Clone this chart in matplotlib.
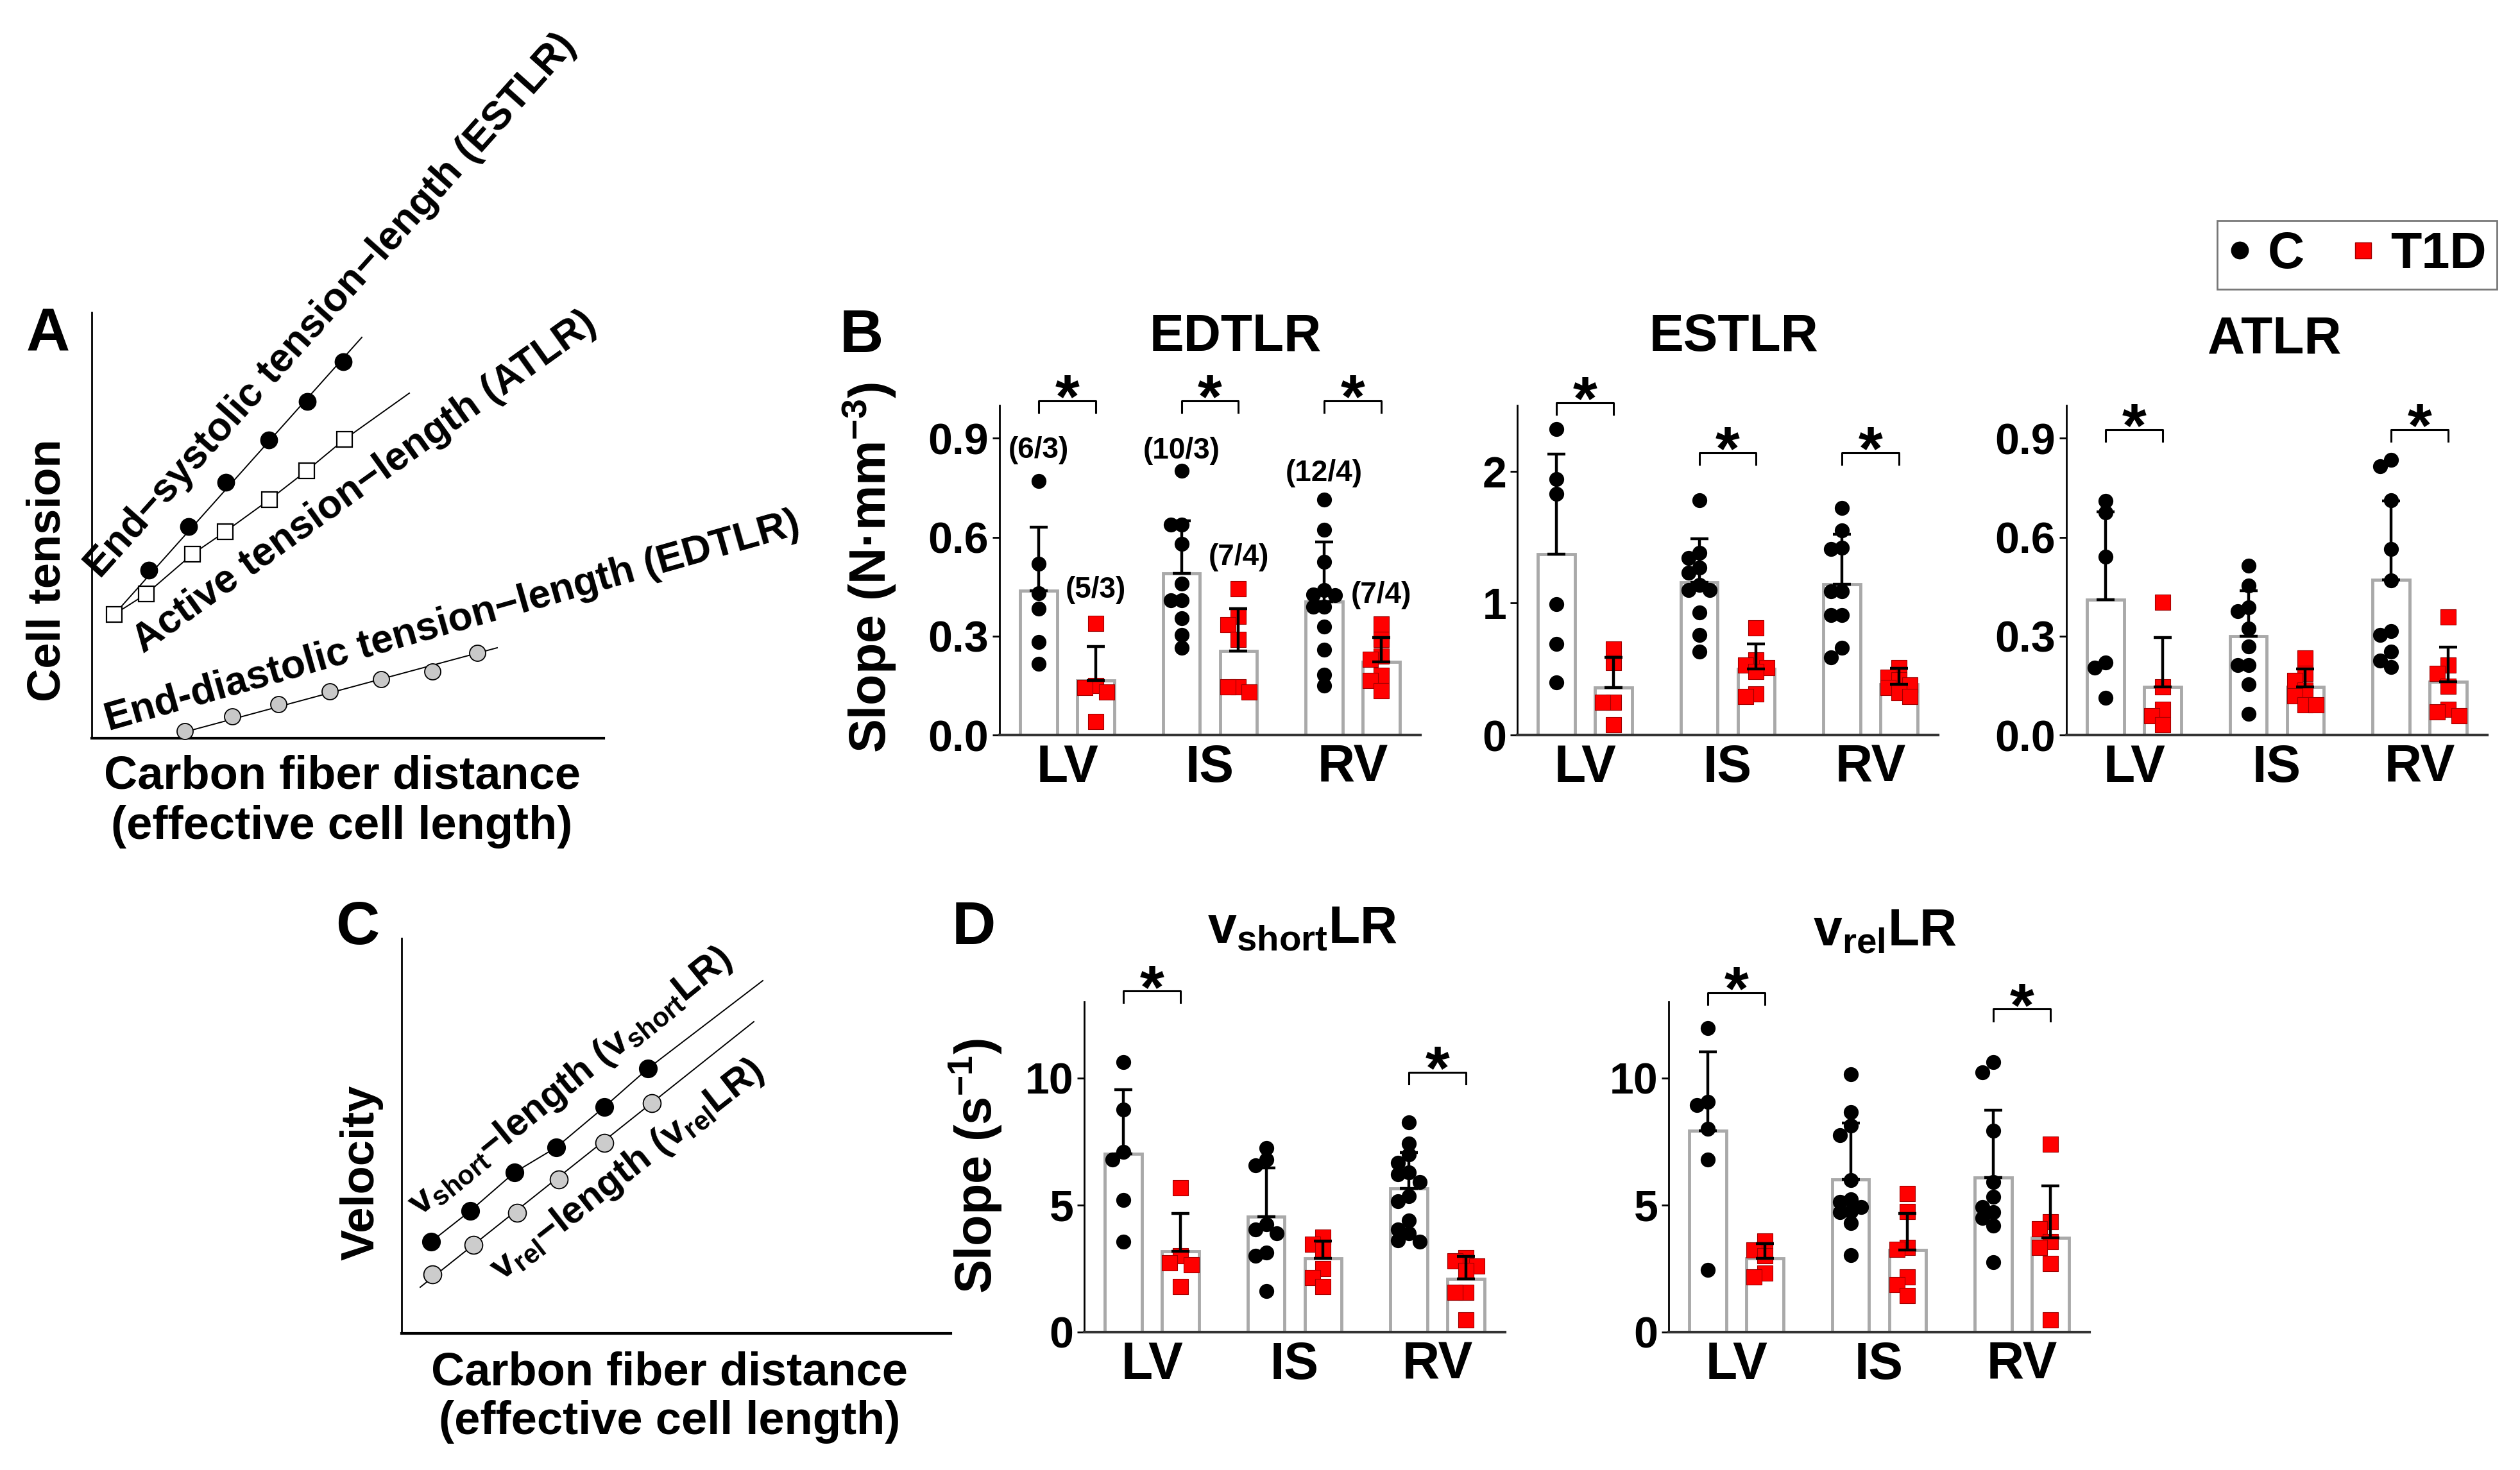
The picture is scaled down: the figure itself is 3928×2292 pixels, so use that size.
import matplotlib

matplotlib.use("Agg")
import matplotlib.pyplot as plt
import numpy as np
from matplotlib.lines import Line2D
from matplotlib.transforms import offset_copy

W, H = 3928, 2292

plt.rcParams["font.family"] = ["Liberation Sans", "DejaVu Sans"]
plt.rcParams["font.weight"] = "bold"
plt.rcParams["mathtext.fontset"] = "custom"
plt.rcParams["mathtext.bf"] = "Liberation Sans:bold"
plt.rcParams["mathtext.rm"] = "Liberation Sans:bold"
plt.rcParams["mathtext.default"] = "bf"

regions = ["LV", "IS", "RV"]
groups = ["C", "T1D"]

# ---- panel B: EDTLR (N mm^-3) ----
edtlr_c = [
    [0.771, 0.519, 0.429, 0.384, 0.282, 0.215],
    [0.801, 0.639, 0.639, 0.579, 0.459, 0.409, 0.409, 0.354, 0.304, 0.264],
    [0.714, 0.622, 0.526, 0.44, 0.426, 0.424, 0.389, 0.389, 0.329, 0.259, 0.182, 0.150],
]
edtlr_t = [
    [0.339, 0.150, 0.143, 0.13, 0.040],
    [0.444, 0.36, 0.334, 0.289, 0.145, 0.145, 0.13],
    [0.337, 0.289, 0.240, 0.230, 0.180, 0.165, 0.135],
]
edtlr_mean = [[0.437, 0.491, 0.404], [0.165, 0.254, 0.222]]
edtlr_sd = [[0.194, 0.158, 0.182], [0.104, 0.130, 0.074]]
edtlr_sig = [0, 1, 2]
edtlr_sig_y = [1.014, 1.014, 1.014]
# n (cells/animals) labels and the height where each one sits
edtlr_n_c = ["(6/3)", "(10/3)", "(12/4)"]
edtlr_n_t = ["(5/3)", "(7/4)", "(7/4)"]
edtlr_n_c_y = [0.863, 0.862, 0.793]
edtlr_n_t_y = [0.44, 0.539, 0.424]

# ---- panel B: ESTLR ----
estlr_c = [
    [2.32, 1.94, 1.83, 0.99, 0.69, 0.40],
    [1.78, 1.38, 1.34, 1.27, 1.23, 1.14, 1.10, 1.10, 0.93, 0.76, 0.63],
    [1.72, 1.55, 1.42, 1.41, 1.09, 1.09, 0.91, 0.91, 0.66, 0.59],
]
estlr_t = [
    [0.65, 0.55, 0.25, 0.25, 0.08],
    [0.81, 0.57, 0.53, 0.51, 0.48, 0.31, 0.29],
    [0.51, 0.44, 0.42, 0.38, 0.36, 0.32, 0.29],
]
estlr_mean = [[1.37, 1.157, 1.142], [0.358, 0.50, 0.386]]
estlr_sd = [[0.76, 0.33, 0.38], [0.232, 0.19, 0.12]]
estlr_sig = [0, 1, 2]
estlr_sig_y = [2.52, 2.14, 2.14]

# ---- panel B: ATLR ----
atlr_c = [
    [0.71, 0.675, 0.541, 0.219, 0.205, 0.112],
    [0.513, 0.453, 0.387, 0.376, 0.322, 0.269, 0.213, 0.213, 0.154, 0.065],
    [0.835, 0.815, 0.713, 0.565, 0.468, 0.316, 0.304, 0.252, 0.225, 0.207],
]
atlr_t = [
    [0.403, 0.146, 0.077, 0.059, 0.032],
    [0.233, 0.186, 0.165, 0.136, 0.118, 0.091, 0.091],
    [0.358, 0.213, 0.186, 0.148, 0.077, 0.071, 0.059],
]
atlr_mean = [[0.411, 0.30, 0.47], [0.146, 0.146, 0.162]]
atlr_sd = [[0.267, 0.138, 0.24], [0.15, 0.054, 0.104]]
atlr_sig = [0, 2]
atlr_sig_y = [0.927, 0.927]

# ---- panel D: vshortLR (s^-1) ----
vshort_c = [
    [10.62, 8.77, 7.10, 6.78, 5.19, 3.57],
    [7.25, 6.78, 6.57, 4.25, 4.03, 3.88, 3.13, 3.01, 1.61],
    [8.26, 7.43, 7.0, 6.67, 6.28, 6.2, 5.9, 5.36, 5.16, 4.39, 4.03, 3.88, 3.62, 3.57],
]
vshort_t = [
    [5.68, 3.01, 2.72, 2.65, 1.78],
    [3.74, 3.45, 3.23, 2.51, 2.14, 1.78],
    [2.94, 2.80, 2.6, 2.43, 1.57, 1.57, 0.48],
]
vshort_mean = [[7.03, 4.54, 5.65], [3.19, 2.90, 2.10]]
vshort_sd = [[2.51, 1.92, 1.42], [1.49, 0.69, 0.89]]
vshort_sig = [0, 2]
vshort_sig_y = [13.42, 10.23]

# ---- panel D: vrelLR ----
vrel_c = [
    [11.96, 9.06, 8.94, 8.01, 6.78, 2.46],
    [10.14, 8.65, 8.12, 7.75, 5.97, 5.22, 5.12, 4.93, 4.74, 4.71, 4.30, 3.04],
    [10.62, 10.22, 7.93, 5.9, 5.33, 4.93, 4.71, 4.49, 4.2, 2.75],
]
vrel_t = [
    [3.58, 3.23, 3.0, 2.32, 2.17],
    [5.46, 4.74, 3.33, 3.26, 2.17, 1.88, 1.45],
    [7.39, 4.35, 4.06, 3.55, 3.33, 2.71, 0.48],
]
vrel_mean = [[7.93, 6.01, 6.09], [2.90, 3.23, 3.70]]
vrel_sd = [[3.11, 2.22, 2.65], [0.58, 1.45, 2.05]]
vrel_sig = [0, 2]
vrel_sig_y = [13.36, 12.71]

# ---- schematic A (arbitrary length / tension units) ----
a_es_x = [89, 151, 209, 276, 336, 392]
a_es_y = [262, 330, 399, 465, 525, 587]
a_es_line_x = [35, 421]
a_es_line_y = [193, 625]
a_at_x = [35, 85, 157, 208, 277, 335, 394]
a_at_y = [193, 225, 287, 322, 372, 417, 466]
a_at_line_end = [495, 538]
a_ed_x = [145, 219, 291, 371, 451, 531, 601]
a_ed_y = [11, 34, 53, 73, 92, 104, 133]
a_ed_line_x = [135, 632]
a_ed_line_y = [7, 141]

# ---- schematic C ----
c_sh_x = [46, 107, 176, 241, 316, 384]
c_sh_y = [143, 191, 251, 290, 353, 413]
c_sh_line_end = [563, 550]
c_rel_x = [48, 112, 180, 245, 316, 390]
c_rel_y = [92, 138, 188, 240, 297, 359]
c_rel_line_x = [29, 549]
c_rel_line_y = [72, 486]


fig = plt.figure(figsize=(W / 100, H / 100), dpi=100)


def rect_px(left, top, right, bottom):
    return [left / W, 1 - bottom / H, (right - left) / W, (bottom - top) / H]


def ftext(xp, yp, s, **kw):
    return fig.text(xp / W, 1 - yp / H, s, **kw)


def swarm(vals, y_px, step=0.075, x_px=222.4, min_dist=16.0):
    placed, offsets = [], []
    for v in vals:
        for k in (0, -1, 1, -2, 2, -3, 3):
            o = k * step
            if all(np.hypot((o - po) * x_px, (v - pv) * y_px) >= min_dist
                   for po, pv in placed):
                break
        placed.append((o, v))
        offsets.append(o)
    return np.array(offsets)


def bar_panel(rect, height_px, ylim, yticks, yticklabels, c_pts, t_pts, mean, sd, sig, sig_y):
    ax = fig.add_axes(rect)
    x = np.arange(len(regions))
    y_px = height_px / ylim[1]
    for j, shift in enumerate((-0.2, 0.2)):
        ax.bar(x + shift, mean[j], 0.26, color="white", edgecolor="#a9a9a9",
               linewidth=3.5, zorder=1)
    for i in range(len(regions)):
        ax.scatter(x[i] - 0.2 + swarm(c_pts[i], y_px), c_pts[i], s=280,
                   color="black", linewidths=0, zorder=2)
        ax.scatter(x[i] + 0.2 + swarm(t_pts[i], y_px, min_dist=15), t_pts[i],
                   s=300, marker="s", color="#ff0000", edgecolors="#a00000",
                   linewidths=0.8, zorder=2)
    for j, shift in enumerate((-0.2, 0.2)):
        ax.errorbar(x + shift, mean[j], yerr=[np.zeros(len(x)), sd[j]], fmt="none",
                    ecolor="black", elinewidth=3.2, capsize=10, capthick=3.2, zorder=3)
    foot = 0.035 * ylim[1]
    star_tr = offset_copy(ax.transData, fig=fig, y=-19, units="points")
    for g, yb in zip(sig, sig_y):
        ax.plot([g - 0.2, g - 0.2, g + 0.2, g + 0.2], [yb - foot, yb, yb, yb - foot],
                color="black", lw=2.2, clip_on=False, zorder=5)
        ax.text(g, yb, "*", transform=star_tr, ha="center", va="baseline",
                fontsize=70, clip_on=False)
    ax.set_xlim(-0.475, 2.475)
    ax.set_ylim(*ylim)
    ax.set_xticks(x, regions)
    ax.set_yticks(yticks, yticklabels)
    ax.tick_params(axis="x", length=0, pad=10, labelsize=58)
    ax.tick_params(axis="y", length=8, width=2, pad=4, labelsize=49)
    for s in ("top", "right"):
        ax.spines[s].set_visible(False)
    ax.spines["left"].set_linewidth(2)
    ax.spines["bottom"].set_linewidth(3)
    ax.spines["bottom"].set_color("#333333")
    return ax


# ---- B panels ----
ax_ed = bar_panel(rect_px(1558, 632, 2214, 1146), 514, (0, 1.0), [0, 0.3, 0.6, 0.9],
                  ["0.0", "0.3", "0.6", "0.9"], edtlr_c, edtlr_t, edtlr_mean, edtlr_sd,
                  edtlr_sig, edtlr_sig_y)
for i in range(len(regions)):
    ax_ed.text(i - 0.2, edtlr_n_c_y[i], edtlr_n_c[i], ha="center", va="center", fontsize=33)
    ax_ed.text(i + 0.2, edtlr_n_t_y[i], edtlr_n_t[i], ha="center", va="center", fontsize=33)

bar_panel(rect_px(2365, 632, 3021, 1146), 514, (0, 2.5), [0, 1, 2], ["0", "1", "2"],
          estlr_c, estlr_t, estlr_mean, estlr_sd, estlr_sig, estlr_sig_y)
bar_panel(rect_px(3221, 632, 3877, 1146), 514, (0, 1.0), [0, 0.3, 0.6, 0.9],
          ["0.0", "0.3", "0.6", "0.9"], atlr_c, atlr_t, atlr_mean, atlr_sd,
          atlr_sig, atlr_sig_y)

# ---- D panels ----
bar_panel(rect_px(1690, 1562, 2346, 2077), 515, (0, 13), [0, 5, 10], ["0", "5", "10"],
          vshort_c, vshort_t, vshort_mean, vshort_sd, vshort_sig, vshort_sig_y)
bar_panel(rect_px(2601, 1562, 3257, 2077), 515, (0, 13), [0, 5, 10], ["0", "5", "10"],
          vrel_c, vrel_t, vrel_mean, vrel_sd, vrel_sig, vrel_sig_y)


def schematic_axes(rect, w, h):
    ax = fig.add_axes(rect)
    ax.set_xlim(0, w)
    ax.set_ylim(0, h)
    ax.set_xticks([])
    ax.set_yticks([])
    for s in ("top", "right"):
        ax.spines[s].set_visible(False)
    ax.spines["left"].set_linewidth(2)
    ax.spines["bottom"].set_linewidth(3)
    return ax


# ---- A schematic ----
ax_a = schematic_axes(rect_px(143, 487, 941, 1151), 798, 664)
ax_a.plot(a_es_line_x, a_es_line_y, color="black", lw=1.4, zorder=1)
ax_a.plot(a_at_x + [a_at_line_end[0]], a_at_y + [a_at_line_end[1]], color="black", lw=1.4, zorder=1)
ax_a.plot(a_ed_line_x, a_ed_line_y, color="black", lw=1.4, zorder=1)
ax_a.plot(a_es_x, a_es_y, "o", color="black", ms=19, zorder=3)
ax_a.plot(a_at_x, a_at_y, "s", mfc="white", mec="black", mew=1.6, ms=17, zorder=3)
ax_a.plot(a_ed_x, a_ed_y, "o", mfc="#c8c8c8", mec="black", mew=1.3, ms=18, zorder=3, clip_on=False)

# ---- C schematic ----
ax_c = schematic_axes(rect_px(626, 1463, 1482, 2079), 856, 616)
ax_c.plot(c_sh_x + [c_sh_line_end[0]], c_sh_y + [c_sh_line_end[1]], color="black", lw=1.4, zorder=1)
ax_c.plot(c_rel_line_x, c_rel_line_y, color="black", lw=1.4, zorder=1)
ax_c.plot(c_sh_x, c_sh_y, "o", color="black", ms=20, zorder=3)
ax_c.plot(c_rel_x, c_rel_y, "o", mfc="#cccccc", mec="black", mew=1.3, ms=20, zorder=3)

# ---- texts ----
for letter, xp, yp in (("A", 75, 548), ("B", 1343, 549), ("C", 557, 1472), ("D", 1518, 1472)):
    ftext(xp, yp, letter, ha="center", va="baseline", fontsize=68)

for title, xp, yp in (("EDTLR", 1926, 547), ("ESTLR", 2703, 547), ("ATLR", 3545, 551),
                      (r"$v_{short}$LR", 2030, 1471), (r"$v_{rel}$LR", 2938, 1475)):
    ftext(xp, yp, title, ha="center", va="baseline", fontsize=58)

ftext(1355, 885, "Slope (N\u00b7mm$^{-3}$)", rotation=90, ha="center", va="center", fontsize=57)
ftext(1521, 1818, "Slope (s$^{-1}$)", rotation=90, ha="center", va="center", fontsize=57)

ftext(75, 889, "Cell tension", rotation=90, ha="center", va="center", fontsize=52)
ftext(563, 1828, "Velocity", rotation=90, ha="center", va="center", fontsize=52)
for xp, y1, y2 in ((533, 1230, 1308), (1044, 2159, 2236)):
    ftext(xp, y1, "Carbon fiber distance", ha="center", va="baseline", fontsize=52)
    ftext(xp, y2, "(effective cell length)", ha="center", va="baseline", fontsize=52)

rot_kw = dict(ha="center", va="center", rotation_mode="anchor", fontsize=45)
ftext(516, 477, "End\u2212systolic tension\u2212length (ESTLR)", rotation=48.2, **rot_kw)
ftext(568, 752, "Active tension\u2212length (ATLR)", rotation=35.6, **rot_kw)
ftext(705, 970, "End-diastolic tension\u2212length (EDTLR)", rotation=15.9, **rot_kw)
rot_kw["fontsize"] = 43
ftext(889, 1687, "$v_{short}$\u2212length ($v_{short}$LR)", rotation=39, **rot_kw)
ftext(978, 1825, "$v_{rel}$\u2212length ($v_{rel}$LR)", rotation=38, **rot_kw)

# ---- legend ----
handles = [
    Line2D([], [], marker="o", ls="", color="black", markersize=19),
    Line2D([], [], marker="s", ls="", color="#ff0000", markeredgecolor="#a00000",
           markeredgewidth=1, markersize=18),
]
leg = fig.legend(handles, groups, loc="upper right", bbox_to_anchor=(3892 / W, 1 - 344 / H),
                 ncol=2, frameon=True, fancybox=False, edgecolor="#555555",
                 prop={"weight": "bold", "size": 57}, handlelength=0.5,
                 handletextpad=0.3, columnspacing=0.9, borderpad=0.2, borderaxespad=0)
leg.get_frame().set_linewidth(2)

fig.savefig("out.png", dpi=100)
